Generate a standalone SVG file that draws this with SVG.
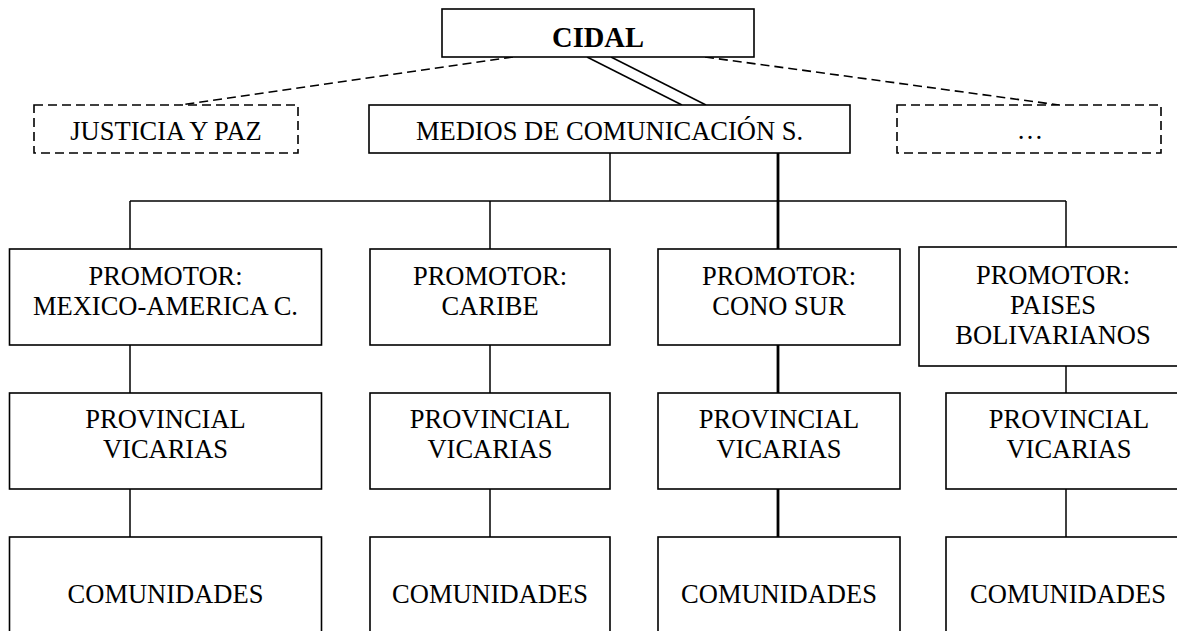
<svg xmlns="http://www.w3.org/2000/svg" width="1177" height="631" viewBox="0 0 1177 631">
<style>
.box{fill:#fff;stroke:#000;stroke-width:1.6}
.dbox{fill:#fff;stroke:#000;stroke-width:1.6;stroke-dasharray:9 5}
.t{font-family:"Liberation Serif","Times New Roman",serif;font-size:26.5px;fill:#000;text-anchor:middle}
.b{font-weight:bold;font-size:28.5px}
.ln{stroke:#000;stroke-width:1.5;fill:none}
.hv{stroke:#000;stroke-width:2.8;fill:none}
.ds{stroke:#000;stroke-width:1.6;fill:none;stroke-dasharray:9 5}
</style>
<rect width="1177" height="631" fill="#fff"/>
<g id="connectors">
<line class="ds" x1="513" y1="57" x2="180" y2="105"/>
<line class="ds" x1="705" y1="57" x2="1059" y2="105"/>
<line class="ln" x1="587" y1="57" x2="682" y2="105"/>
<line class="ln" x1="611" y1="57" x2="706" y2="105"/>
<line class="ln" x1="610" y1="153" x2="610" y2="201"/>
<line class="ln" x1="130" y1="201" x2="1066" y2="201"/>
<line class="ln" x1="130" y1="201" x2="130" y2="249"/>
<line class="ln" x1="490" y1="201" x2="490" y2="249"/>
<line class="ln" x1="1066" y1="201" x2="1066" y2="247"/>
<line class="hv" x1="778" y1="153" x2="778" y2="249"/>
<line class="ln" x1="130" y1="345" x2="130" y2="393"/>
<line class="ln" x1="490" y1="345" x2="490" y2="393"/>
<line class="hv" x1="778" y1="345" x2="778" y2="393"/>
<line class="ln" x1="1066" y1="366" x2="1066" y2="393"/>
<line class="ln" x1="130" y1="489" x2="130" y2="537"/>
<line class="ln" x1="490" y1="489" x2="490" y2="537"/>
<line class="hv" x1="778" y1="489" x2="778" y2="537"/>
<line class="ln" x1="1066" y1="489" x2="1066" y2="537"/>
</g>
<g id="cidal">
<rect class="box" x="442" y="9" width="312" height="48"/>
<text class="t b" x="598" y="47">CIDAL</text>
</g>
<g id="justicia">
<rect class="dbox" x="34" y="105" width="264" height="48"/>
<text class="t" x="166" y="140">JUSTICIA Y PAZ</text>
</g>
<g id="medios">
<rect class="box" x="369" y="105" width="481" height="48"/>
<text class="t" x="609.5" y="140">MEDIOS DE COMUNICACIÓN S.</text>
</g>
<g id="otros">
<rect class="dbox" x="897" y="105" width="264" height="48"/>
<text class="t" x="1030" y="139">…</text>
</g>
<g id="promotor-mexico">
<rect class="box" x="9.5" y="249" width="312" height="96"/>
<text class="t" x="165.5" y="285">PROMOTOR:</text>
<text class="t" x="165.5" y="315">MEXICO-AMERICA C.</text>
</g>
<g id="promotor-caribe">
<rect class="box" x="370" y="249" width="240" height="96"/>
<text class="t" x="490" y="285">PROMOTOR:</text>
<text class="t" x="490" y="315">CARIBE</text>
</g>
<g id="promotor-cono-sur">
<rect class="box" x="658" y="249" width="242" height="96"/>
<text class="t" x="779" y="285">PROMOTOR:</text>
<text class="t" x="779" y="315">CONO SUR</text>
</g>
<g id="promotor-bolivarianos">
<rect class="box" x="919" y="247" width="268" height="119"/>
<text class="t" x="1053" y="284">PROMOTOR:</text>
<text class="t" x="1053" y="314">PAISES</text>
<text class="t" x="1053" y="344">BOLIVARIANOS</text>
</g>
<g id="provincial-1">
<rect class="box" x="9.5" y="393" width="312" height="96"/>
<text class="t" x="165.5" y="428">PROVINCIAL</text>
<text class="t" x="165.5" y="458">VICARIAS</text>
</g>
<g id="provincial-2">
<rect class="box" x="370" y="393" width="240" height="96"/>
<text class="t" x="490" y="428">PROVINCIAL</text>
<text class="t" x="490" y="458">VICARIAS</text>
</g>
<g id="provincial-3">
<rect class="box" x="658" y="393" width="242" height="96"/>
<text class="t" x="779" y="428">PROVINCIAL</text>
<text class="t" x="779" y="458">VICARIAS</text>
</g>
<g id="provincial-4">
<rect class="box" x="946" y="393" width="246" height="96"/>
<text class="t" x="1069" y="428">PROVINCIAL</text>
<text class="t" x="1069" y="458">VICARIAS</text>
</g>
<g id="comunidades-1">
<rect class="box" x="9.5" y="537" width="312" height="110"/>
<text class="t" x="165.5" y="603">COMUNIDADES</text>
</g>
<g id="comunidades-2">
<rect class="box" x="370" y="537" width="240" height="110"/>
<text class="t" x="490" y="603">COMUNIDADES</text>
</g>
<g id="comunidades-3">
<rect class="box" x="658" y="537" width="242" height="110"/>
<text class="t" x="779" y="603">COMUNIDADES</text>
</g>
<g id="comunidades-4">
<rect class="box" x="946" y="537" width="246" height="110"/>
<text class="t" x="1068" y="603">COMUNIDADES</text>
</g>
</svg>
